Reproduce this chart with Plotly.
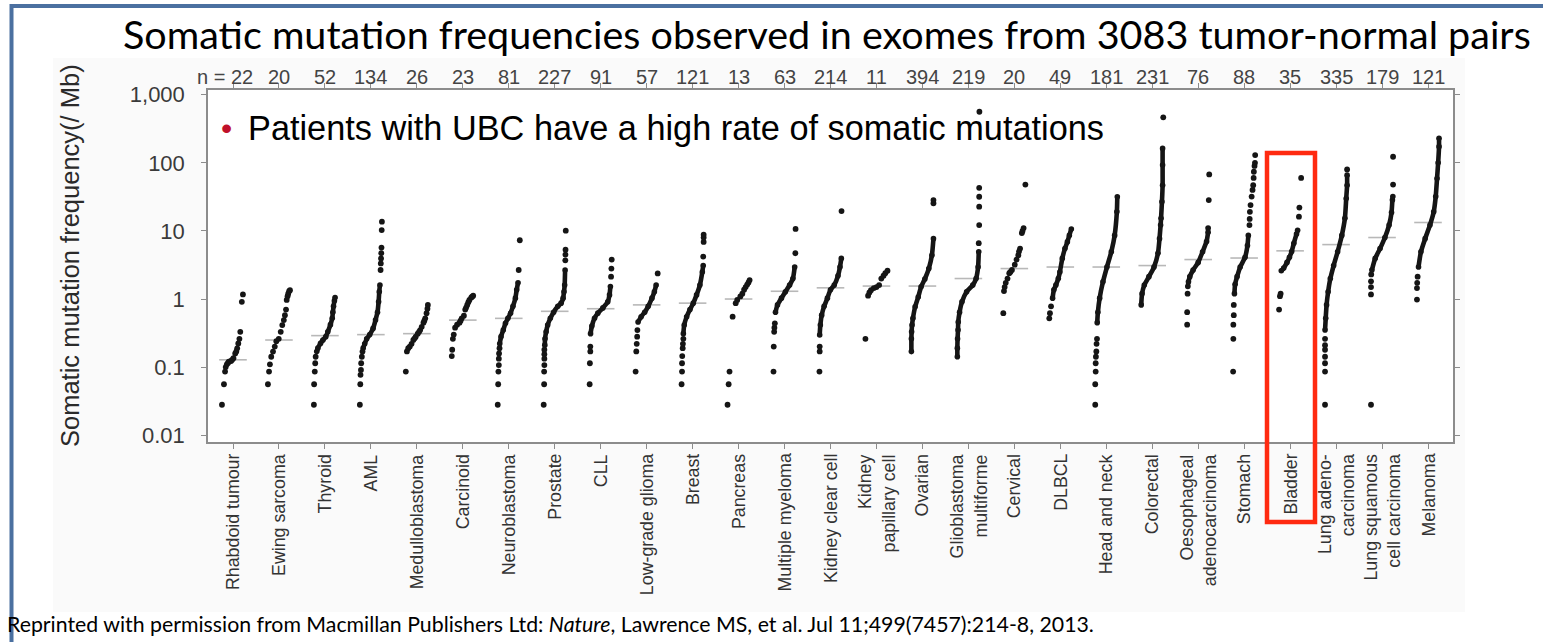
import plotly.graph_objects as go

# ---------------------------------------------------------------- data
CATEGORIES = [
    "Rhabdoid tumour", "Ewing sarcoma", "Thyroid", "AML", "Medulloblastoma",
    "Carcinoid", "Neuroblastoma", "Prostate", "CLL", "Low-grade glioma",
    "Breast", "Pancreas", "Multiple myeloma", "Kidney clear cell",
    "Kidney<br>papillary cell", "Ovarian", "Glioblastoma<br>multiforme",
    "Cervical", "DLBCL", "Head and neck", "Colorectal",
    "Oesophageal<br>adenocarcinoma", "Stomach", "Bladder",
    "Lung adeno-<br>carcinoma", "Lung squamous<br>cell carcinoma", "Melanoma",
]
SAMPLE_COUNTS = [22, 20, 52, 134, 26, 23, 81, 227, 91, 57, 121, 13, 63, 214,
                 11, 394, 219, 20, 49, 181, 231, 76, 88, 35, 335, 179, 121]
MEDIANS = [0.128, 0.25, 0.29, 0.30, 0.31, 0.49, 0.52, 0.66, 0.72, 0.82, 0.87,
           1.0, 1.3, 1.46, 1.55, 1.55, 2.0, 2.8, 2.95, 2.95, 3.1, 3.8, 4.0,
           5.1, 6.3, 8.0, 13.3]
Y_TICKS = [0.01, 0.1, 1, 10, 100, 1000]
Y_TICK_TEXT = ["0.01", "0.1", "1", "10", "100", "1,000"]

# (rank quantile within tumour type, mutations per Mb)
# *_DOTS: individually resolved samples, *_CURVE: densely packed samples
RHABDOID_DOTS = [(0.00, 0.028), (0.09, 0.056), (0.14, 0.086), (0.17, 0.10), (0.22, 0.11),
                 (0.27, 0.115), (0.31, 0.12), (0.41, 0.123), (0.46, 0.128), (0.52, 0.135),
                 (0.60, 0.159), (0.65, 0.17), (0.69, 0.189), (0.74, 0.223), (0.79, 0.26),
                 (0.83, 0.33), (0.90, 0.91), (0.95, 1.17)]
RHABDOID_CURVE = []
EWING_DOTS = [(0.00, 0.056), (0.05, 0.086), (0.09, 0.11), (0.15, 0.142), (0.23, 0.169),
              (0.31, 0.20), (0.38, 0.24), (0.49, 0.26), (0.58, 0.33), (0.65, 0.415),
              (0.72, 0.49), (0.77, 0.58), (0.82, 0.70), (0.85, 0.97), (0.89, 1.10),
              (0.92, 1.20), (0.96, 1.30), (1.00, 1.35)]
EWING_CURVE = []
THYROID_DOTS = [(0.00, 0.028), (0.01, 0.056), (0.04, 0.086), (0.06, 0.114), (0.08, 0.142)]
THYROID_CURVE = [(0.13, 0.169), (0.18, 0.19), (0.30, 0.223), (0.41, 0.25), (0.54, 0.28),
                 (0.63, 0.33), (0.75, 0.42), (0.83, 0.52), (0.86, 0.64), (0.89, 0.78),
                 (0.93, 0.94), (0.96, 1.05)]
AML_DOTS = [(0.00, 0.028), (0.02, 0.056), (0.03, 0.077), (0.05, 0.091), (0.06, 0.114),
            (0.09, 0.142), (0.12, 0.169), (0.94, 2.67), (0.95, 3.33), (0.96, 3.95),
            (0.97, 4.7), (0.98, 5.7), (0.99, 10.3), (1.00, 13.7)]
AML_CURVE = [(0.15, 0.19), (0.22, 0.22), (0.31, 0.26), (0.45, 0.30), (0.60, 0.37),
             (0.71, 0.49), (0.80, 0.64), (0.85, 0.91), (0.88, 1.28), (0.91, 1.60)]
MEDULLO_DOTS = [(0.00, 0.086), (0.05, 0.17), (0.11, 0.19), (0.18, 0.20), (0.26, 0.22),
                (0.34, 0.25), (0.40, 0.265), (0.45, 0.28), (0.54, 0.31), (0.60, 0.33),
                (0.65, 0.35), (0.72, 0.39), (0.80, 0.45), (0.84, 0.48), (0.88, 0.52),
                (0.94, 0.62), (0.98, 0.72), (1.00, 0.82)]
MEDULLO_CURVE = []
CARCINOID_DOTS = [(0.00, 0.145), (0.02, 0.18), (0.05, 0.26), (0.09, 0.30), (0.15, 0.38),
                  (0.24, 0.42), (0.35, 0.45), (0.40, 0.48), (0.45, 0.52), (0.55, 0.57),
                  (0.61, 0.70), (0.65, 0.75), (0.70, 0.82), (0.75, 0.90), (0.80, 0.97),
                  (0.88, 1.05), (0.92, 1.08), (0.97, 1.12)]
CARCINOID_CURVE = []
NEURO_DOTS = [(0.00, 0.028), (0.02, 0.056), (0.03, 0.086), (0.05, 0.107), (0.05, 0.133),
              (0.06, 0.159), (0.08, 0.19), (0.95, 2.67), (1.00, 7.3)]
NEURO_CURVE = [(0.09, 0.22), (0.15, 0.28), (0.25, 0.35), (0.35, 0.44), (0.46, 0.52),
               (0.58, 0.62), (0.69, 0.78), (0.80, 1.03), (0.86, 1.37), (0.92, 1.73)]
PROSTATE_DOTS = [(0.00, 0.028), (0.02, 0.056), (0.02, 0.086), (0.03, 0.107), (0.03, 0.133),
                 (0.03, 0.155), (0.03, 0.18), (0.98, 3.7), (0.985, 4.5), (0.99, 5.3),
                 (1.00, 10.1)]
PROSTATE_CURVE = [(0.05, 0.21), (0.06, 0.26), (0.11, 0.33), (0.18, 0.415), (0.30, 0.52),
                  (0.45, 0.64), (0.64, 0.78), (0.79, 0.87), (0.88, 1.03), (0.92, 1.28),
                  (0.95, 1.6), (0.97, 2.67)]
CLL_DOTS = [(0.00, 0.056), (0.01, 0.114), (0.03, 0.17), (0.03, 0.20), (0.97, 2.13),
            (0.985, 2.8), (1.00, 3.8)]
CLL_CURVE = [(0.04, 0.31), (0.10, 0.40), (0.22, 0.52), (0.37, 0.62), (0.60, 0.74),
             (0.82, 0.91), (0.90, 1.15), (0.94, 1.53)]
LGG_DOTS = [(0.00, 0.086), (0.03, 0.17), (0.05, 0.22), (0.07, 0.28), (0.08, 0.35),
            (1.00, 2.38)]
LGG_CURVE = [(0.11, 0.46), (0.25, 0.55), (0.41, 0.64), (0.57, 0.78), (0.74, 1.03),
             (0.85, 1.28), (0.93, 1.6)]
BREAST_DOTS = [(0.00, 0.056), (0.02, 0.086), (0.02, 0.114), (0.03, 0.145), (0.05, 0.19),
               (0.06, 0.22), (0.08, 0.26), (0.98, 4.2), (1.00, 6.9), (1.00, 8.0),
               (1.00, 8.8)]
BREAST_CURVE = [(0.08, 0.31), (0.12, 0.415), (0.23, 0.55), (0.38, 0.70), (0.53, 0.87),
                (0.68, 1.15), (0.83, 1.6), (0.94, 2.5), (0.98, 3.1)]
PANCREAS_DOTS = [(0.00, 0.028), (0.05, 0.056), (0.09, 0.086), (0.23, 0.55), (0.37, 0.87),
                 (0.44, 0.97), (0.58, 1.09), (0.67, 1.2), (0.75, 1.37), (0.82, 1.5),
                 (0.89, 1.63), (0.95, 1.75), (1.00, 1.9)]
PANCREAS_CURVE = []
MYELOMA_DOTS = [(0.00, 0.086), (0.01, 0.20), (0.03, 0.33), (0.04, 0.38), (0.06, 0.44),
                (0.99, 4.7), (1.00, 10.7)]
MYELOMA_CURVE = [(0.09, 0.64), (0.18, 0.82), (0.36, 1.03), (0.54, 1.28), (0.73, 1.6),
                 (0.88, 2.0), (0.96, 2.95)]
KIDNEY_CC_DOTS = [(0.00, 0.086), (0.01, 0.17), (0.01, 0.20), (1.00, 19.6)]
KIDNEY_CC_CURVE = [(0.01, 0.296), (0.04, 0.415), (0.10, 0.58), (0.21, 0.78), (0.36, 1.03),
                   (0.50, 1.37), (0.67, 1.6), (0.84, 2.2), (0.93, 2.95), (0.99, 3.95)]
KIDNEY_PC_DOTS = [(0.00, 0.26), (0.12, 1.12), (0.18, 1.25), (0.25, 1.35), (0.38, 1.45),
                  (0.50, 1.5), (0.62, 1.6), (0.72, 2.0), (0.82, 2.2), (0.90, 2.4),
                  (1.00, 2.6)]
KIDNEY_PC_CURVE = []
OVARIAN_DOTS = [(1.00, 25.5), (1.00, 28.4)]
OVARIAN_CURVE = [(0.00, 0.169), (0.00, 0.26), (0.01, 0.33), (0.03, 0.415), (0.07, 0.52),
                 (0.17, 0.77), (0.31, 1.07), (0.44, 1.51), (0.61, 1.97), (0.79, 2.8),
                 (0.93, 4.4), (1.00, 7.7)]
GBM_DOTS = [(0.97, 6.6), (0.99, 12.2), (0.99, 22.7), (0.99, 31.8), (0.99, 43),
            (1.00, 563)]
GBM_CURVE = [(0.00, 0.142), (0.00, 0.19), (0.01, 0.26), (0.03, 0.35), (0.04, 0.46),
             (0.10, 0.64), (0.21, 0.91), (0.42, 1.28), (0.70, 1.6), (0.85, 2.0),
             (0.94, 2.95), (0.97, 4.95)]
CERVICAL_DOTS = [(0.00, 0.62), (0.03, 1.31), (0.06, 1.5), (0.11, 1.73), (0.19, 2.0),
                 (0.27, 2.4), (0.32, 2.5), (0.39, 2.67), (0.52, 3.2), (0.60, 3.8),
                 (0.68, 4.4), (0.71, 5.0), (0.76, 5.5), (0.84, 9.3), (0.87, 10.0),
                 (0.92, 11.0), (1.00, 48)]
CERVICAL_CURVE = []
DLBCL_DOTS = [(0.00, 0.52), (0.03, 0.62), (0.08, 0.78)]
DLBCL_CURVE = [(0.15, 1.03), (0.21, 1.37), (0.30, 1.6), (0.41, 2.0), (0.48, 2.5),
               (0.59, 3.95), (0.71, 5.5), (0.82, 6.9), (0.91, 8.6), (1.00, 10.7)]
HEAD_NECK_DOTS = [(0.00, 0.028), (0.00, 0.056), (0.02, 0.086), (0.02, 0.114),
                  (0.03, 0.142), (0.05, 0.17), (0.06, 0.22), (0.08, 0.26)]
HEAD_NECK_CURVE = [(0.09, 0.45), (0.12, 0.64), (0.20, 1.03), (0.35, 1.79), (0.53, 2.95),
                   (0.73, 4.95), (0.88, 8.6), (0.98, 19.1), (1.00, 31.8)]
COLORECTAL_DOTS = [(1.00, 466)]
COLORECTAL_CURVE = [(0.00, 0.82), (0.04, 1.2), (0.14, 1.6), (0.35, 2.13), (0.58, 2.95),
                    (0.76, 4.7), (0.83, 7.7), (0.88, 12.2), (0.90, 15.3), (0.94, 26.8),
                    (0.97, 47), (0.97, 93), (0.97, 163)]
OESOPH_DOTS = [(0.00, 0.42), (0.00, 0.64), (0.02, 1.2), (0.95, 11.0), (0.98, 28.4),
               (1.00, 67.7)]
OESOPH_CURVE = [(0.03, 1.53), (0.06, 1.79), (0.12, 2.13), (0.27, 2.67), (0.50, 3.45),
                (0.70, 4.95), (0.88, 7.0), (0.95, 9.6)]
STOMACH_DOTS = [(0.00, 0.086), (0.01, 0.26), (0.01, 0.42), (0.03, 0.58), (0.03, 0.82),
                (0.74, 12.2), (0.75, 15.0), (0.76, 19.1), (0.79, 24), (0.84, 32),
                (0.88, 40), (0.91, 47), (0.93, 60), (0.94, 74), (0.97, 90),
                (0.99, 100), (1.00, 130)]
STOMACH_CURVE = [(0.06, 1.2), (0.09, 1.65), (0.18, 2.13), (0.32, 2.95), (0.54, 4.1),
                 (0.65, 6.1), (0.69, 8.6)]
BLADDER_DOTS = [(0.00, 0.70), (0.04, 1.1), (0.07, 1.2), (0.90, 16.2), (0.92, 22),
                (1.00, 60)]
BLADDER_CURVE = [(0.10, 2.6), (0.21, 2.85), (0.36, 3.45), (0.47, 4.1), (0.57, 5.0),
                 (0.67, 6.6), (0.79, 9.0), (0.84, 10.2)]
LUNG_AD_DOTS = [(0.00, 0.028), (0.00, 0.086), (0.00, 0.114), (0.00, 0.142), (0.00, 0.18),
                (0.00, 0.21), (0.00, 0.26), (1.00, 80)]
LUNG_AD_CURVE = [(0.00, 0.35), (0.03, 0.52), (0.07, 0.82), (0.14, 1.28), (0.24, 2.0),
                 (0.39, 3.1), (0.57, 4.95), (0.76, 8.6), (0.90, 15.3), (0.96, 30),
                 (1.00, 47), (1.00, 66)]
LUNG_SQ_DOTS = [(0.00, 0.028), (0.00, 1.17), (0.00, 1.5), (0.00, 1.82), (0.01, 2.3),
                (1.00, 48), (1.00, 123)]
LUNG_SQ_CURVE = [(0.04, 2.67), (0.19, 3.95), (0.41, 5.5), (0.63, 8.0), (0.82, 12.2),
                 (0.93, 18.6), (0.97, 28.4), (0.99, 32)]
MELANOMA_DOTS = [(0.00, 0.98), (0.00, 1.45), (0.01, 1.73), (0.03, 2.13)]
MELANOMA_CURVE = [(0.07, 2.95), (0.18, 4.95), (0.37, 7.7), (0.59, 12.2), (0.76, 19.1),
                  (0.85, 32), (0.91, 59), (0.96, 100), (1.00, 173), (1.00, 229)]

SAMPLES = [
    (RHABDOID_DOTS, RHABDOID_CURVE), (EWING_DOTS, EWING_CURVE),
    (THYROID_DOTS, THYROID_CURVE), (AML_DOTS, AML_CURVE),
    (MEDULLO_DOTS, MEDULLO_CURVE), (CARCINOID_DOTS, CARCINOID_CURVE),
    (NEURO_DOTS, NEURO_CURVE), (PROSTATE_DOTS, PROSTATE_CURVE),
    (CLL_DOTS, CLL_CURVE), (LGG_DOTS, LGG_CURVE), (BREAST_DOTS, BREAST_CURVE),
    (PANCREAS_DOTS, PANCREAS_CURVE), (MYELOMA_DOTS, MYELOMA_CURVE),
    (KIDNEY_CC_DOTS, KIDNEY_CC_CURVE), (KIDNEY_PC_DOTS, KIDNEY_PC_CURVE),
    (OVARIAN_DOTS, OVARIAN_CURVE), (GBM_DOTS, GBM_CURVE),
    (CERVICAL_DOTS, CERVICAL_CURVE), (DLBCL_DOTS, DLBCL_CURVE),
    (HEAD_NECK_DOTS, HEAD_NECK_CURVE), (COLORECTAL_DOTS, COLORECTAL_CURVE),
    (OESOPH_DOTS, OESOPH_CURVE), (STOMACH_DOTS, STOMACH_CURVE),
    (BLADDER_DOTS, BLADDER_CURVE), (LUNG_AD_DOTS, LUNG_AD_CURVE),
    (LUNG_SQ_DOTS, LUNG_SQ_CURVE), (MELANOMA_DOTS, MELANOMA_CURVE),
]

# ---------------------------------------------------------------- layout helpers
W, H = 1543, 642
PLOT_L, PLOT_R, PLOT_T, PLOT_B = 208, 1453, 90, 442
SPREAD = 0.48          # width of each tumour-type column, in category units
MED_HALF = 0.30        # half-length of the median bar
DOT_COLOR = "#151515"
AXIS_COLOR = "#8c8c8c"
SANS = "Liberation Sans, Arial, sans-serif"


def px(x):
    return (x - PLOT_L) / (PLOT_R - PLOT_L)


def py(y):
    return (PLOT_B - y) / (PLOT_B - PLOT_T)


def column_x(i, q):
    return i + (q - 0.5) * SPREAD


dot_x, dot_y, cur_x, cur_y, med_x, med_y = [], [], [], [], [], []
for i, (dots, curve) in enumerate(SAMPLES):
    for q, v in dots:
        dot_x.append(column_x(i, q))
        dot_y.append(v)
    if curve:
        for q, v in curve:
            cur_x.append(column_x(i, q))
            cur_y.append(v)
        cur_x.append(None)
        cur_y.append(None)
    med_x += [i - MED_HALF, i + MED_HALF, None]
    med_y += [MEDIANS[i], MEDIANS[i], None]

fig = go.Figure()
fig.add_trace(go.Scatter(x=med_x, y=med_y, mode="lines",
                         line=dict(color="#b8b8b8", width=1.6),
                         hoverinfo="skip"))
fig.add_trace(go.Scatter(x=cur_x, y=cur_y, mode="lines+markers",
                         line=dict(color=DOT_COLOR, width=4.6, shape="spline",
                                   smoothing=0.6),
                         marker=dict(color=DOT_COLOR, size=5.6)))
fig.add_trace(go.Scatter(x=dot_x, y=dot_y, mode="markers",
                         marker=dict(color=DOT_COLOR, size=5.8)))

annotations = []
# slide title
annotations.append(dict(
    text="Somatic mutation frequencies observed in exomes from 3083 tumor-normal pairs",
    x=px(827), y=py(34), xref="paper", yref="paper", xanchor="center",
    yanchor="middle", showarrow=False,
    font=dict(family="Lato, sans-serif", size=39.5, color="#000000")))
# y axis title
annotations.append(dict(
    text="Somatic mutation frequency(/ Mb)", x=px(70), y=py(256),
    xref="paper", yref="paper", xanchor="center", yanchor="middle",
    textangle=-90, showarrow=False,
    font=dict(family=SANS, size=25.5, color="#2a2a2a")))
# bullet statement inside the plot
annotations.append(dict(
    text="•", x=px(226), y=py(128), xref="paper", yref="paper",
    xanchor="center", yanchor="middle", showarrow=False,
    font=dict(family=SANS, size=32, color="#c0102a")))
annotations.append(dict(
    text="Patients with UBC have a high rate of somatic mutations",
    x=px(246), y=py(128), xref="paper", yref="paper", xanchor="left",
    yanchor="middle", showarrow=False,
    font=dict(family=SANS, size=34.3, color="#000000")))
# sample counts above the plot
for i, n in enumerate(SAMPLE_COUNTS):
    label = f"n = {n}" if i == 0 else str(n)
    annotations.append(dict(
        text=label, x=i + (0.48 if i == 0 else 0), y=py(77), xref="x",
        yref="paper", xanchor="right" if i == 0 else "center",
        yanchor="middle", showarrow=False,
        font=dict(family=SANS, size=20, color="#444444")))
# tumour type labels under the plot
for i, name in enumerate(CATEGORIES):
    annotations.append(dict(
        text=name, x=i, y=py(452), xref="x", yref="paper", xanchor="center",
        yanchor="top", textangle=-90, align="right", showarrow=False,
        font=dict(family=SANS, size=17.8, color="#333333")))
# citation
annotations.append(dict(
    text="Reprinted with permission from Macmillan Publishers Ltd: <i>Nature</i>, "
         "Lawrence MS, et al. Jul 11;499(7457):214-8, 2013.",
    x=px(5), y=py(624), xref="paper", yref="paper", xanchor="left",
    yanchor="middle", showarrow=False,
    font=dict(family="Lato, sans-serif", size=21.3, color="#000000")))

shapes = [
    # faint figure background with white plotting panel
    dict(type="rect", xref="paper", yref="paper", x0=px(53), x1=px(1465),
         y0=py(612), y1=py(58), fillcolor="#fafafa", line=dict(width=0),
         layer="below"),
    dict(type="rect", xref="paper", yref="paper", x0=0, x1=1, y0=0, y1=1,
         fillcolor="#ffffff", line=dict(width=0), layer="below"),
    # slide frame
    dict(type="line", xref="paper", yref="paper", x0=px(11.5), x1=px(11.5),
         y0=py(4), y1=py(642), line=dict(color="#4b70a0", width=4)),
    dict(type="line", xref="paper", yref="paper", x0=px(10), x1=px(1543),
         y0=py(6), y1=py(6), line=dict(color="#4b70a0", width=4)),
    # highlight around bladder
    dict(type="rect", xref="paper", yref="paper", x0=px(1267), x1=px(1315),
         y0=py(522), y1=py(153), line=dict(color="#ff2a10", width=4.5),
         fillcolor="rgba(0,0,0,0)"),
]

fig.update_layout(
    width=W, height=H, autosize=False,
    margin=dict(l=PLOT_L, r=W - PLOT_R, t=PLOT_T, b=H - PLOT_B, pad=0),
    paper_bgcolor="#ffffff", plot_bgcolor="#ffffff",
    showlegend=False, annotations=annotations, shapes=shapes,
    xaxis=dict(range=[-0.544, 26.544], tickvals=list(range(len(CATEGORIES))),
               showticklabels=False, ticks="outside", ticklen=5, tickwidth=1,
               tickcolor=AXIS_COLOR, showline=True, linecolor=AXIS_COLOR,
               linewidth=1.5, mirror="ticks", showgrid=False, zeroline=False),
    yaxis=dict(type="log", range=[-2.10, 3.07], tickvals=Y_TICKS,
               ticktext=Y_TICK_TEXT, ticks="outside", ticklen=5, tickwidth=1,
               tickcolor=AXIS_COLOR, showline=True, linecolor=AXIS_COLOR,
               linewidth=1.5, mirror="ticks", showgrid=False, zeroline=False,
               ticklabelstandoff=12,
               tickfont=dict(family=SANS, size=22, color="#3a3a3a")),
)

fig.write_html("out.html")
